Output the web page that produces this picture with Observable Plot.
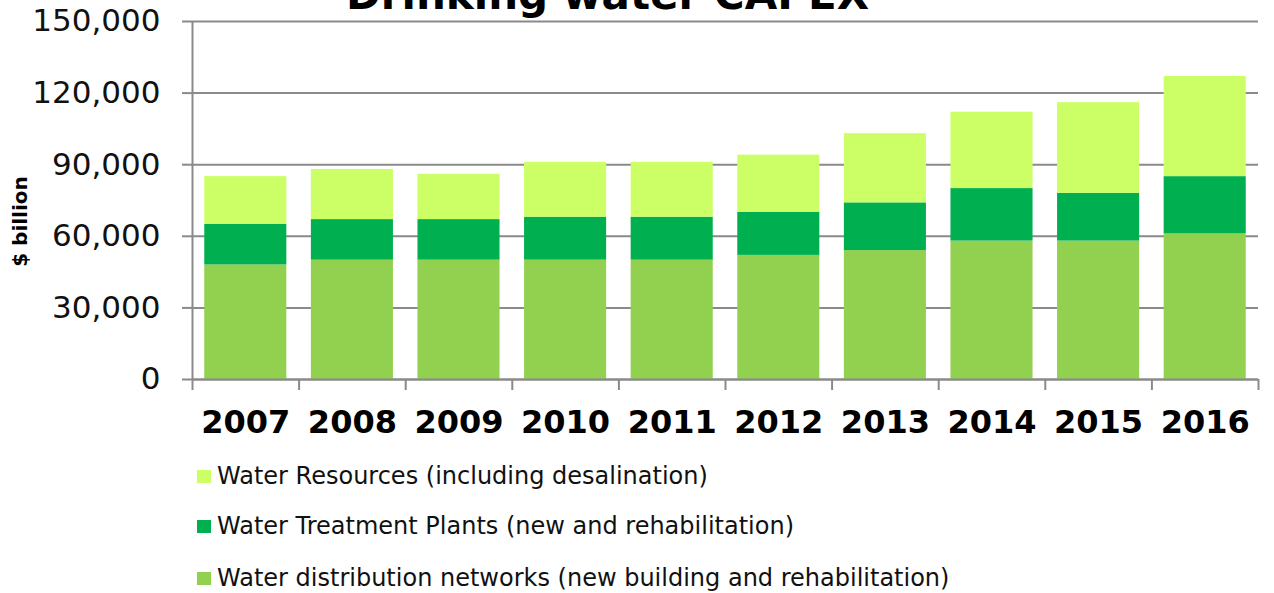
<!DOCTYPE html>
<html><head><meta charset="utf-8">
<script src="https://cdn.jsdelivr.net/npm/d3@7"></script>
<script src="https://cdn.jsdelivr.net/npm/@observablehq/plot@0.6"></script>
<style>
body{margin:0;background:#fff;font-family:"DejaVu Sans",Verdana,sans-serif;}
#wrap{position:relative;width:1274px;height:593px;overflow:hidden;background:#fff;}
#chart svg{display:block;overflow:visible;}
.leg{position:absolute;left:197px;font-size:24px;color:#111;display:flex;align-items:center;white-space:nowrap;}
.sw{width:14px;height:13px;margin-right:6px;display:inline-block;}
</style>
</head><body>
<div id="wrap"><div id="chart"></div><div id="legend"></div></div>
<script>
const title = "Drinking water CAPEX";
const yLabel = "$ billion";
const years = ["2007","2008","2009","2010","2011","2012","2013","2014","2015","2016"];
const seriesNames = [
  "Water distribution networks (new building and rehabilitation)",
  "Water Treatment Plants (new and rehabilitation)",
  "Water Resources (including desalination)"
];
const seriesColors = ["#92d050", "#00b050", "#ccff66"];
const distribution = [48000, 50000, 50000, 50000, 50000, 52000, 54000, 58000, 58000, 61000];
const treatment    = [17000, 17000, 17000, 18000, 18000, 18000, 20000, 22000, 20000, 24000];
const resources    = [20000, 21000, 19000, 23000, 23000, 24000, 29000, 32000, 38000, 42000];
const yTicks = [0, 30000, 60000, 90000, 120000, 150000];
const legendOrder = [2, 1, 0];

const seriesValues = [distribution, treatment, resources];
const data = [];
seriesNames.forEach((s, si) => years.forEach((y, i) => data.push({year: y, series: s, value: seriesValues[si][i]})));

const W = 1274, H = 445, mL = 192, mR = 16, mT = 21, mB = 66;
const pInner = 0.23, pOuter = 0.115;
const step = (W - mL - mR) / (years.length - pInner + 2 * pOuter);
const grey = "#8a8a8a";

const plot = Plot.plot({
  width: W, height: H,
  marginLeft: mL, marginRight: mR, marginTop: mT, marginBottom: mB,
  style: {fontFamily: "'DejaVu Sans', Verdana, sans-serif", background: "#fff", overflow: "visible"},
  x: {type: "band", domain: years, paddingInner: pInner, paddingOuter: pOuter, align: 0.5, round: false, label: null},
  y: {domain: [0, 150000], label: null},
  color: {domain: seriesNames, range: seriesColors},
  marks: [
    Plot.ruleY(yTicks, {stroke: grey, strokeWidth: 2}),
    Plot.barY(data, {x: "year", y: "value", fill: "series", order: seriesNames}),
    Plot.ruleY([0], {stroke: grey, strokeWidth: 2}),
    Plot.ruleX([years[0]], {x: d => d, dx: -step / 2, y1: 0, y2: 150000, stroke: grey, strokeWidth: 2}),
    Plot.ruleX(years, {x: d => d, dx: -step / 2, y1: 0, y2: 0, insetTop: 11, stroke: grey, strokeWidth: 2}),
    Plot.ruleX([years[years.length - 1]], {x: d => d, dx: step / 2, y1: 0, y2: 0, insetTop: 11, stroke: grey, strokeWidth: 2}),
    Plot.axisY({ticks: yTicks, tickFormat: d3.format(","), tickSize: 10, tickPadding: 22, fontSize: 31, stroke: grey, strokeWidth: 2, fill: "#111"}),
    Plot.axisX({tickSize: 0, tickPadding: 31, fontSize: 32, fontWeight: "bold", fill: "#000"}),
    Plot.text([yLabel], {frameAnchor: "left", textAnchor: "middle", dx: -172, dy: 21, rotate: -90, fontSize: 20, fontWeight: "bold", fill: "#000"}),
    Plot.text([title], {frameAnchor: "top", lineAnchor: "bottom", dx: -118, dy: -13, fontSize: 42, fontWeight: "bold", fill: "#000"})
  ]
});
document.getElementById("chart").appendChild(plot);

const leg = document.getElementById("legend");
const rowCenters = [476, 526, 578];
legendOrder.forEach((si, r) => {
  const d = document.createElement("div");
  d.className = "leg";
  d.style.top = (rowCenters[r] - 14) + "px";
  d.style.height = "28px";
  d.innerHTML = `<span class="sw" style="background:${seriesColors[si]}"></span><span>${seriesNames[si]}</span>`;
  leg.appendChild(d);
});
</script>
</body></html>
